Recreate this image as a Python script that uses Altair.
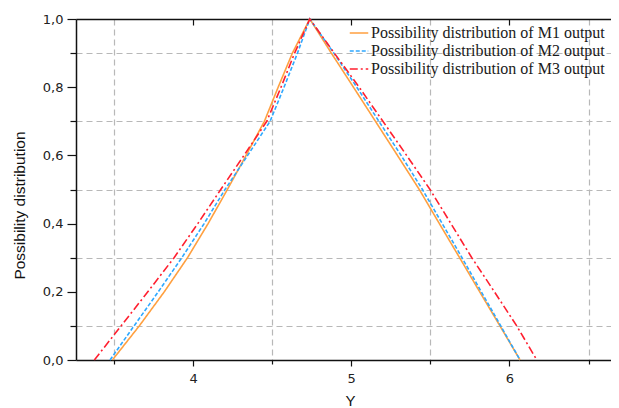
import altair as alt
import pandas as pd

series = [
    "Possibility distribution of M1 output",
    "Possibility distribution of M2 output",
    "Possibility distribution of M3 output",
]
colors = ["#ffa040", "#2ea8ff", "#ff1f2f"]
dashes = [[1, 0], [4, 2], [8, 3, 2, 3]]

levels_up = [0.0, 0.1, 0.2, 0.3, 0.4, 0.5, 0.6, 0.7, 0.8, 0.9, 1.0]
levels_down = [0.9, 0.8, 0.7, 0.6, 0.5, 0.4, 0.3, 0.2, 0.1, 0.0]

m1_left = [3.490, 3.660, 3.818, 3.965, 4.095, 4.217, 4.335, 4.451, 4.538, 4.628, 4.738]
m1_right = [4.874, 5.014, 5.153, 5.292, 5.430, 5.557, 5.685, 5.812, 5.940, 6.067]

m2_left = [3.475, 3.627, 3.780, 3.929, 4.070, 4.202, 4.345, 4.487, 4.575, 4.660, 4.738]
m2_right = [4.890, 5.035, 5.175, 5.315, 5.450, 5.575, 5.700, 5.822, 5.945, 6.067]

m3_left = [3.376, 3.545, 3.714, 3.880, 4.030, 4.175, 4.322, 4.466, 4.556, 4.642, 4.738]
m3_right = [4.893, 5.050, 5.200, 5.350, 5.498, 5.630, 5.762, 5.905, 6.046, 6.173]

x_ticks = [3.5, 4, 4.5, 5, 5.5, 6, 6.5]
x_major = [4, 5, 6]
y_ticks = [0.0, 0.1, 0.2, 0.3, 0.4, 0.5, 0.6, 0.7, 0.8, 0.9, 1.0]

rows = []
for name, left, right in zip(series, [m1_left, m2_left, m3_left], [m1_right, m2_right, m3_right]):
    xs = left + right
    ys = levels_up + levels_down
    for i, (xv, yv) in enumerate(zip(xs, ys)):
        rows.append({"series": name, "x": xv, "y": yv, "order": i})
df = pd.DataFrame(rows)
top_df = pd.DataFrame({"x": x_major})

xscale = alt.Scale(domain=[3.26, 6.642], nice=False, zero=False)
yscale = alt.Scale(domain=[0, 1], nice=False, zero=False)

x_minor = "datum.value % 1 !== 0"
y_minor = "round(datum.value * 10) % 2 === 1"

x_axis = alt.Axis(
    values=x_ticks,
    title="Y",
    titleFont="Liberation Sans",
    titleFontSize=15,
    titleFontWeight="normal",
    titleColor="#111111",
    titleX=274,
    titleY=33,
    titleBaseline="top",
    labelExpr="datum.value % 1 === 0 ? format(datum.value, 'd') : ''",
    labelFont="DejaVu Sans",
    labelFontSize=13,
    labelColor="#222222",
    labelPadding=6,
    labelFlush=False,
    tickColor="#111111",
    tickWidth=1.2,
    tickSize={"condition": {"test": x_minor, "value": 4}, "value": 6},
    domainColor="#111111",
    domainWidth=1.5,
    grid=True,
    gridColor="#b8b8b8",
    gridDash=[6, 4],
    gridWidth=1.2,
    gridOpacity={"condition": {"test": x_minor, "value": 1}, "value": 0},
)

y_axis = alt.Axis(
    values=y_ticks,
    title="Possibility distribution",
    titleFont="Liberation Sans",
    titleFontSize=15.5,
    titleFontWeight="normal",
    titleColor="#111111",
    titleX=-57,
    titleY=186,
    titleAngle=270,
    titleAlign="center",
    titleBaseline="middle",
    labelExpr="round(datum.value * 10) % 2 === 1 ? '' : replace(format(datum.value, '.1f'), '.', ',')",
    labelFont="DejaVu Sans",
    labelFontSize=13,
    labelColor="#222222",
    labelPadding=4,
    labelFlush=False,
    tickColor="#111111",
    tickWidth=1.2,
    tickSize={"condition": {"test": y_minor, "value": 6}, "value": 9},
    domainColor="#111111",
    domainWidth=1.5,
    grid=True,
    gridColor="#b8b8b8",
    gridDash=[6, 4],
    gridWidth=1.2,
    gridOpacity={"condition": {"test": y_minor, "value": 1}, "value": 0},
)

legend = alt.Legend(
    orient="none",
    legendX=273,
    legendY=4,
    title=None,
    symbolType="stroke",
    symbolSize=342,
    symbolStrokeWidth=1.5,
    labelFont="Liberation Serif",
    labelFontSize=16,
    labelColor="#1a1a1a",
    labelOffset=2,
    labelLimit=400,
    rowPadding=0,
    padding=0,
)

lines = alt.Chart(df).mark_line(strokeWidth=1.6).encode(
    x=alt.X("x:Q", scale=xscale, axis=x_axis),
    y=alt.Y("y:Q", scale=yscale, axis=y_axis),
    color=alt.Color("series:N", scale=alt.Scale(domain=series, range=colors), legend=legend),
    strokeDash=alt.StrokeDash("series:N", scale=alt.Scale(domain=series, range=dashes), legend=legend),
    order="order:Q",
)

top_axis = alt.Axis(
    orient="top",
    values=x_major,
    labels=False,
    title=None,
    grid=False,
    tickColor="#111111",
    tickWidth=1.2,
    tickSize={"expr": "-6"},
    domainColor="#111111",
    domainWidth=1.5,
)

top = alt.Chart(top_df).mark_point(opacity=0).encode(
    x=alt.X("x:Q", scale=xscale, axis=top_axis),
)

chart = (
    alt.layer(lines, top)
    .resolve_axis(x="independent")
    .properties(
        width=535,
        height=341,
        autosize="none",
        padding={"left": 68, "top": 11, "right": 0, "bottom": 48},
        background="white",
    )
    .configure_view(stroke=None)
)

chart.save("out.html", embed_options={"renderer": "svg", "actions": False})
